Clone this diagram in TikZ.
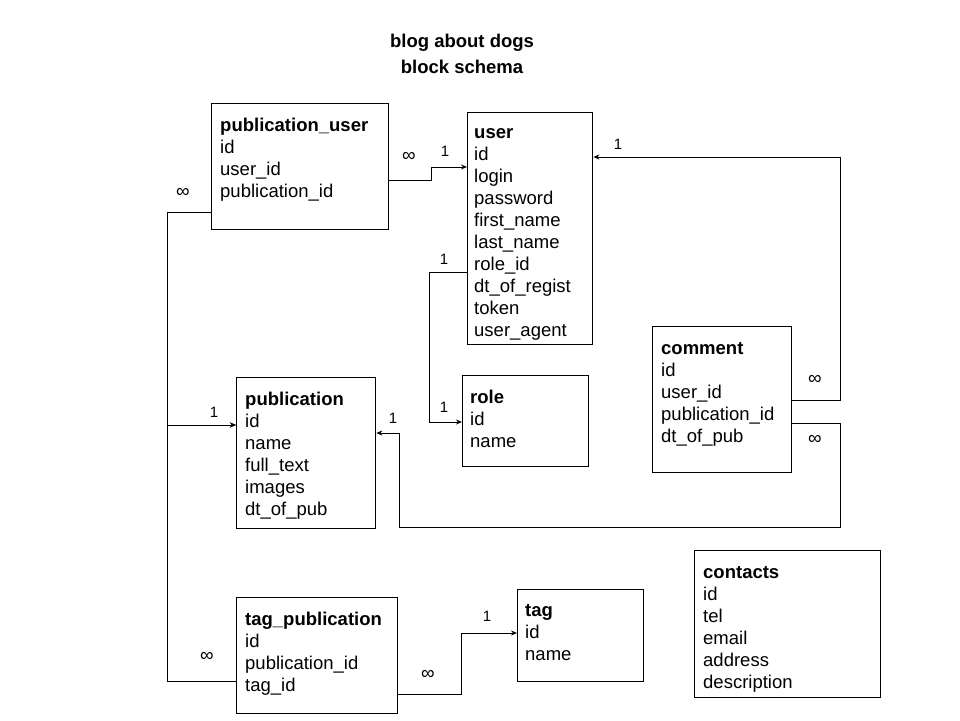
\documentclass[tikz,border=0pt]{standalone}
\usepackage{fontspec}
\setmainfont{Liberation Sans}
\usetikzlibrary{arrows.meta}
\tikzset{
  tbl/.style={draw, line width=1.3pt, anchor=north west, inner sep=0pt},
  fld/.style={anchor=north west, inner sep=0pt, align=left, font=\fontsize{18.5}{22}\selectfont},
  head/.style={anchor=north, inner sep=0pt, align=center, font=\fontsize{18.5}{26}\selectfont\bfseries},
  lnk/.style={line width=1pt, -{Stealth[length=6pt,width=5pt]}},
  one/.style={inner sep=0pt, font=\fontsize{15}{17}\selectfont},
  many/.style={inner sep=0pt, font=\fontsize{19}{22}\selectfont},
}

\begin{document}
\begin{tikzpicture}[x=1pt,y=-1pt]
        \useasboundingbox (0,0) rectangle (960,720);
        \node[head] (title) at (462,29.3) {\strut blog about dogs\\block schema};

        % tables
        \node[tbl, minimum width=177pt, minimum height=126pt] (pubuser) at (211,103) {};
        \node[fld] (pubuserT) at (220,116) {\strut\textbf{publication\_user}\\id\\user\_id\\publication\_id};

        \node[tbl, minimum width=125pt, minimum height=232pt] (user) at (467,112) {};
        \node[fld] (userT) at (474,123) {\strut\textbf{user}\\id\\login\\password\\first\_name\\last\_name\\role\_id\\dt\_of\_regist\\token\\user\_agent};

        \node[tbl, minimum width=139pt, minimum height=146pt] (comment) at (652,326) {};
        \node[fld] (commentT) at (661,339) {\strut\textbf{comment}\\id\\user\_id\\publication\_id\\dt\_of\_pub};

        \node[tbl, minimum width=126pt, minimum height=91pt] (role) at (462,375) {};
        \node[fld] (roleT) at (470,388) {\strut\textbf{role}\\id\\name};

        \node[tbl, minimum width=139pt, minimum height=151pt] (publication) at (236,377) {};
        \node[fld] (publicationT) at (245,390) {\strut\textbf{publication}\\id\\name\\full\_text\\images\\dt\_of\_pub};

        \node[tbl, minimum width=161pt, minimum height=116pt] (tagpub) at (236,597) {};
        \node[fld] (tagpubT) at (245,610) {\strut\textbf{tag\_publication}\\id\\publication\_id\\tag\_id};

        \node[tbl, minimum width=126pt, minimum height=92pt] (tag) at (517,589) {};
        \node[fld] (tagT) at (525,601) {\strut\textbf{tag}\\id\\name};

        \node[tbl, minimum width=186pt, minimum height=147pt] (contacts) at (694,550) {};
        \node[fld] (contactsT) at (703,563) {\strut\textbf{contacts}\\id\\tel\\email\\address\\description};

        % bend points
        \coordinate (pu1) at (431,180);
        \coordinate (pu2) at (431,167);
        \coordinate (ro1) at (429,272);
        \coordinate (ro2) at (429,422);
        \coordinate (cu1) at (840,400);
        \coordinate (cu2) at (840,157);
        \coordinate (cp1) at (840,423);
        \coordinate (cp2) at (840,527);
        \coordinate (cp3) at (399,527);
        \coordinate (cp4) at (399,433);
        \coordinate (pp1) at (167,212);
        \coordinate (pp2) at (167,425);
        \coordinate (tp1) at (167,681);
        \coordinate (tt1) at (461,694);
        \coordinate (tt2) at (461,633);

        % links
        \draw[lnk] (pubuser.east |- pu1) -- (pu1) -- (pu2) -- (user.west |- pu2);
        \draw[lnk] (user.west |- ro1) -- (ro1) -- (ro2) -- (role.west |- ro2);
        \draw[lnk] (comment.east |- cu1) -- (cu1) -- (cu2) -- (user.east |- cu2);
        \draw[lnk] (comment.east |- cp1) -- (cp1) -- (cp2) -- (cp3) -- (cp4) -- (publication.east |- cp4);
        \draw[lnk] (pubuser.west |- pp1) -- (pp1) -- (pp2) -- (publication.west |- pp2);
        \draw[lnk] (tagpub.west |- tp1) -- (tp1) -- (pp2) -- (publication.west |- pp2);
        \draw[lnk] (tagpub.east |- tt1) -- (tt1) -- (tt2) -- (tag.west |- tt2);

        % cardinalities
        \node[many] (puMany) at (409,157) {∞};
        \node[one] (usOne) at (445,151) {1};
        \node[one] (roleOneA) at (444,259) {1};
        \node[one] (roleOneB) at (444,407) {1};
        \node[one] (cuOne) at (618,144) {1};
        \node[many] (cuMany) at (815,380) {∞};
        \node[many] (cpMany) at (815,440) {∞};
        \node[one] (cpOne) at (393,418) {1};
        \node[many] (ppMany) at (183,193) {∞};
        \node[one] (ppOne) at (214,412) {1};
        \node[many] (tpMany) at (207,657) {∞};
        \node[many] (ttMany) at (428,675) {∞};
        \node[one] (ttOne) at (487,616) {1};
\end{tikzpicture}
\end{document}
